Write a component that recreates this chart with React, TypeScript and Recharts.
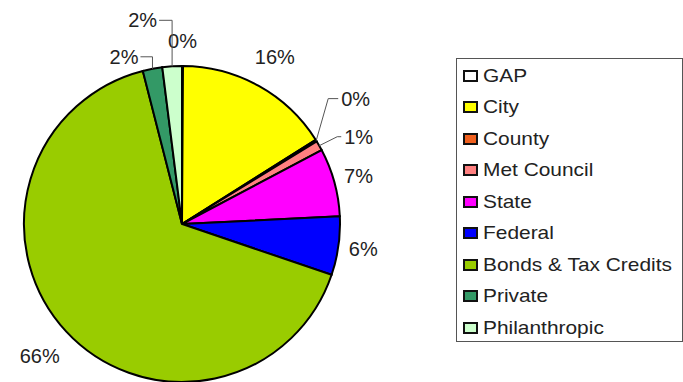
import React from 'react'
import { PieChart, Pie, Cell, Legend } from 'recharts'

const NAMES = ['GAP', 'City', 'County', 'Met Council', 'State', 'Federal', 'Bonds & Tax Credits', 'Private', 'Philanthropic']
const VALUES = [0.1, 16, 0.2, 1, 7, 6, 66, 2, 2]
const COLORS = ['#ffffff', '#ffff00', '#f0601e', '#ff8080', '#ff00ff', '#0000ff', '#99cc00', '#339966', '#ccffcc']

const data = NAMES.map((name, i) => ({ name, value: VALUES[i] }))

// label placement: plain radial offset, or a leader path from the slice edge
type Layout = { offset?: number; leader?: [number, number][]; gap?: number }
const LABEL_LAYOUT: Record<string, Layout> = {
  GAP: { offset: 25 },
  City: { offset: 33 },
  County: { leader: [[12, -42], [10, 0]], gap: 3 },
  'Met Council': { leader: [[18, -9], [4, 0]], gap: 3 },
  State: { offset: 25 },
  Federal: { offset: 25 },
  'Bonds & Tax Credits': { offset: 36 },
  Private: { leader: [[0, -12], [-12, 0]], gap: 2 },
  Philanthropic: { leader: [[0, -46], [-13, 0]], gap: 2 },
}

const RAD = Math.PI / 180
const FONT = '"Liberation Sans", Arial, sans-serif'

const renderLabel = (props: any) => {
  const { cx, cy, midAngle, outerRadius, percent, name } = props
  const layout = LABEL_LAYOUT[name] || { offset: 28 }
  const text = `${Math.round(percent * 100)}%`
  const cos = Math.cos(-midAngle * RAD)
  const sin = Math.sin(-midAngle * RAD)
  if (layout.leader) {
    let x = cx + outerRadius * cos
    let y = cy + outerRadius * sin
    const pts = [`${x},${y}`]
    let lastDx = 0
    layout.leader.forEach(([dx, dy]) => {
      x += dx
      y += dy
      lastDx = dx
      pts.push(`${x},${y}`)
    })
    const right = lastDx >= 0
    const g = layout.gap || 2
    return (
      <g key={name}>
        <polyline points={pts.join(' ')} fill="none" stroke="#555" strokeWidth={1} />
        <text x={right ? x + g : x - g} y={y} textAnchor={right ? 'start' : 'end'} dominantBaseline="central"
          fill="#222" fontSize={20} fontFamily={FONT}>{text}</text>
      </g>
    )
  }
  const r = outerRadius + (layout.offset || 28)
  return (
    <text key={name} x={cx + r * cos} y={cy + r * sin} textAnchor="middle" dominantBaseline="central"
      fill="#222" fontSize={20} fontFamily={FONT}>{text}</text>
  )
}

const renderLegend = () => (
  <div style={{ border: '1px solid #555', boxSizing: 'border-box', width: 227, height: 284, padding: '1px 0 0 6px', background: '#fff' }}>
    {NAMES.map((name, i) => (
      <div key={name} style={{ height: 31.5, display: 'flex', alignItems: 'center', fontFamily: FONT, fontSize: 19, color: '#222' }}>
        <span style={{ width: 15, height: 12, boxSizing: 'border-box', border: '2px solid #111', background: COLORS[i], marginRight: 5, flexShrink: 0 }} />
        <span style={{ display: 'inline-block', transform: 'scaleX(1.1)', transformOrigin: 'left center', whiteSpace: 'nowrap' }}>{name}</span>
      </div>
    ))}
  </div>
)

export default function App() {
  return (
    <div style={{ width: 683, height: 382, background: '#fff' }}>
      <style>{'body{margin:0}'}</style>
      <PieChart width={683} height={382} margin={{ top: 0, right: 0, bottom: 0, left: 0 }}>
        <Pie
          data={data}
          dataKey="value"
          nameKey="name"
          cx={182}
          cy={224}
          outerRadius={158}
          startAngle={90}
          endAngle={-270}
          stroke="#000"
          strokeWidth={2}
          label={renderLabel}
          labelLine={false}
          isAnimationActive={false}
        >
          {data.map((entry, index) => (
            <Cell key={`cell-${index}`} fill={COLORS[index]} />
          ))}
        </Pie>
        <Legend content={renderLegend} wrapperStyle={{ left: 456, top: 58, width: 227, height: 284, bottom: 'auto', right: 'auto' }} />
      </PieChart>
    </div>
  )
}
